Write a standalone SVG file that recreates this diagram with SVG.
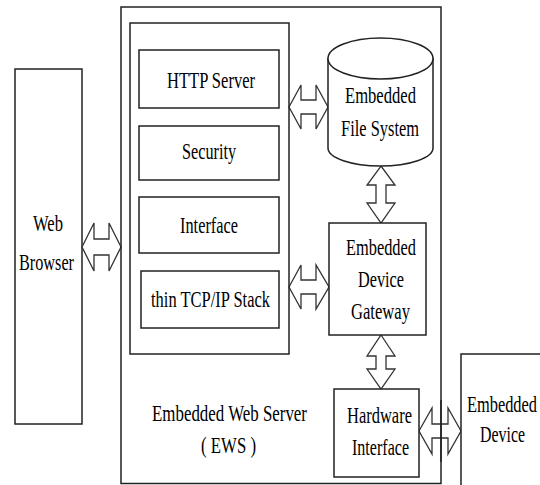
<svg xmlns="http://www.w3.org/2000/svg" width="540" height="485" viewBox="0 0 540 485">
<style>
.box{fill:#fff;stroke:#222;stroke-width:1.5}
.frame{fill:none;stroke:#222;stroke-width:1.5}
.arrow{fill:#fff;stroke:#333;stroke-width:1.3;stroke-linejoin:miter}
text{font-family:"Liberation Serif","Times New Roman",serif;font-size:23px;fill:#000}
</style>
<rect width="540" height="485" fill="#fff"/>
<g id="web-browser">
<rect class="box" x="15" y="69" width="67" height="355"/>
<text x="33" y="231" textLength="30" lengthAdjust="spacingAndGlyphs">Web</text>
<text x="19" y="270" textLength="55" lengthAdjust="spacingAndGlyphs">Browser</text>
</g>
<g id="connectors">
<polygon class="arrow" points="82,247 94,223 94,239 109,239 109,223 121,247 109,271 109,255 94,255 94,271"/>
<polygon class="arrow" points="289,107 301,85 301,100 316,100 316,85 328,107 316,129 316,114 301,114 301,129"/>
<polygon class="arrow" points="289,287 301,265 301,280 316,280 316,265 329,287 316,309 316,294 301,294 301,309"/>
<polygon class="arrow" points="419,431 432,408 432,424 448,424 448,408 461,431 448,454 448,438 432,438 432,454"/>
<polygon class="arrow" points="381,166 395,185 386,185 386,203 395,203 381,223 367,203 376,203 376,185 367,185"/>
<polygon class="arrow" points="381,335 395,356 386,356 386,369 395,369 381,389 367,369 376,369 376,356 367,356"/>
</g>
<g id="ews">
<rect class="frame" x="121" y="7" width="320" height="476.5"/>
<text x="152" y="421" textLength="155" lengthAdjust="spacingAndGlyphs">Embedded Web Server</text>
<text x="201" y="453" textLength="55" lengthAdjust="spacingAndGlyphs">( EWS )</text>
</g>
<g id="protocol-stack">
<rect class="frame" x="130" y="23" width="159" height="331"/>
</g>
<g id="http-server">
<rect class="box" x="139" y="50" width="140" height="58"/>
<text x="167" y="88" textLength="88" lengthAdjust="spacingAndGlyphs">HTTP Server</text>
</g>
<g id="security">
<rect class="box" x="139" y="126" width="140" height="54"/>
<text x="182" y="159" textLength="54" lengthAdjust="spacingAndGlyphs">Security</text>
</g>
<g id="interface">
<rect class="box" x="139" y="197" width="140" height="56"/>
<text x="180" y="233" textLength="58" lengthAdjust="spacingAndGlyphs">Interface</text>
</g>
<g id="tcp-ip-stack">
<rect class="box" x="141" y="271" width="138" height="57"/>
<text x="151" y="307" textLength="119" lengthAdjust="spacingAndGlyphs">thin TCP/IP Stack</text>
</g>
<g id="file-system">
<path class="box" d="M328,58.5 L328,148 A52.5,18 0 0 0 433,148 L433,58.5 Z"/>
<ellipse class="box" cx="380.5" cy="58.5" rx="52.5" ry="20.5"/>
<text x="345" y="103" textLength="71" lengthAdjust="spacingAndGlyphs">Embedded</text>
<text x="341" y="136" textLength="78" lengthAdjust="spacingAndGlyphs">File System</text>
</g>
<g id="device-gateway">
<rect class="box" x="329" y="223" width="97" height="112"/>
<text x="346" y="255" textLength="70" lengthAdjust="spacingAndGlyphs">Embedded</text>
<text x="358" y="287" textLength="46" lengthAdjust="spacingAndGlyphs">Device</text>
<text x="351" y="319" textLength="59" lengthAdjust="spacingAndGlyphs">Gateway</text>
</g>
<g id="hardware-interface">
<rect class="box" x="334" y="389" width="85" height="88"/>
<text x="347" y="423" textLength="65" lengthAdjust="spacingAndGlyphs">Hardware</text>
<text x="352" y="455" textLength="57" lengthAdjust="spacingAndGlyphs">Interface</text>
</g>
<g id="embedded-device">
<rect class="box" x="461" y="354" width="90" height="140"/>
<text x="467" y="412" textLength="70" lengthAdjust="spacingAndGlyphs">Embedded</text>
<text x="480" y="442" textLength="45" lengthAdjust="spacingAndGlyphs">Device</text>
</g>
<g id="ews-border-overlay">
<line x1="441" y1="400" x2="441" y2="462" stroke="#222" stroke-width="1.5"/>
</g>
</svg>
